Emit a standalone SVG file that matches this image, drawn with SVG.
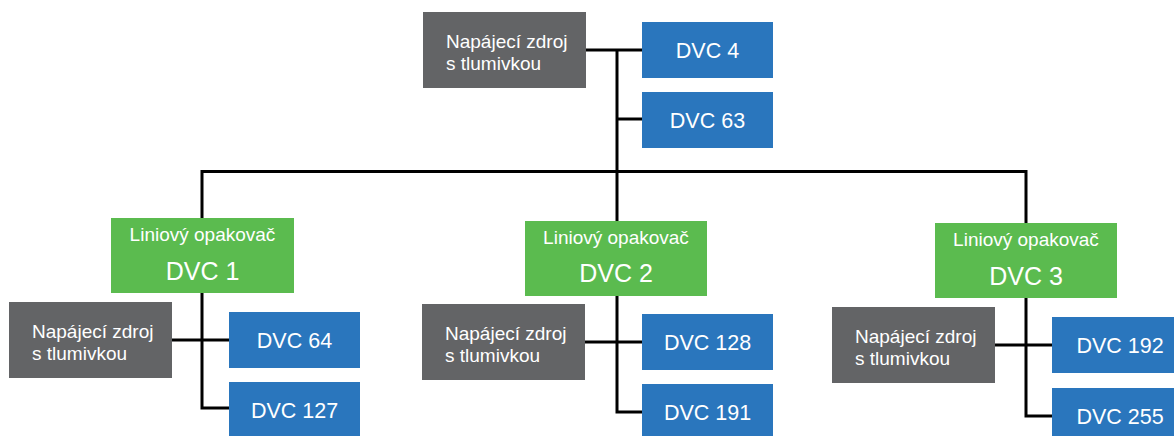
<svg xmlns="http://www.w3.org/2000/svg" width="1174" height="436" viewBox="0 0 1174 436">
  <style>
    .psu { fill: #636466; }
    .dvc { fill: #2a76bd; }
    .rep { fill: #5bbb4f; }
    text { font-family: "Liberation Sans", Arial, sans-serif; fill: #ffffff; }
    .t-psu { font-size: 19px; }
    .t-dvc { font-size: 21.5px; text-anchor: middle; }
    .t-rep { font-size: 19px; text-anchor: middle; }
    .t-rep-big { font-size: 25px; text-anchor: middle; }
    .wire { fill: none; stroke: #000000; stroke-width: 3; }
  </style>
  <rect width="1174" height="436" fill="#ffffff"/>

  <!-- bus wiring -->
  <g id="connectors">
    <!-- top segment: supply, DVC 4, DVC 63 -->
    <path class="wire" d="M586 50 H642"/>
    <path class="wire" d="M617 50 V172"/>
    <path class="wire" d="M617 119 H642"/>
    <!-- main bus to the three repeaters -->
    <path class="wire" d="M202 218 V171.5 H1026 V223"/>
    <path class="wire" d="M617 171.5 V221"/>
    <!-- segment 1 -->
    <path class="wire" d="M202 293 V408 H229"/>
    <path class="wire" d="M172 340 H229"/>
    <!-- segment 2 -->
    <path class="wire" d="M617 296 V412 H642"/>
    <path class="wire" d="M585 342 H642"/>
    <!-- segment 3 -->
    <path class="wire" d="M1026 298 V416 H1052"/>
    <path class="wire" d="M995 345 H1052"/>
  </g>

  <!-- top segment -->
  <g id="psu-top">
    <rect class="psu" x="423" y="12" width="163" height="76"/>
    <text class="t-psu" x="446" y="48">Napájecí zdroj</text>
    <text class="t-psu" x="446" y="70">s tlumivkou</text>
  </g>
  <g id="dvc-4">
    <rect class="dvc" x="642" y="22" width="131" height="56"/>
    <text class="t-dvc" x="707.5" y="58">DVC 4</text>
  </g>
  <g id="dvc-63">
    <rect class="dvc" x="642" y="92" width="131" height="56"/>
    <text class="t-dvc" x="707.5" y="128">DVC 63</text>
  </g>

  <!-- segment 1 -->
  <g id="repeater-1">
    <rect class="rep" x="111" y="218" width="183" height="75"/>
    <text class="t-rep" x="202.5" y="241">Liniový opakovač</text>
    <text class="t-rep-big" x="202.5" y="280">DVC 1</text>
  </g>
  <g id="psu-1">
    <rect class="psu" x="9" y="302" width="163" height="76"/>
    <text class="t-psu" x="32" y="338">Napájecí zdroj</text>
    <text class="t-psu" x="32" y="360">s tlumivkou</text>
  </g>
  <g id="dvc-64">
    <rect class="dvc" x="229" y="312" width="131" height="56"/>
    <text class="t-dvc" x="294.5" y="348">DVC 64</text>
  </g>
  <g id="dvc-127">
    <rect class="dvc" x="229" y="382" width="131" height="56"/>
    <text class="t-dvc" x="294.5" y="418">DVC 127</text>
  </g>

  <!-- segment 2 -->
  <g id="repeater-2">
    <rect class="rep" x="525" y="221" width="182" height="75"/>
    <text class="t-rep" x="616" y="244">Liniový opakovač</text>
    <text class="t-rep-big" x="616" y="282">DVC 2</text>
  </g>
  <g id="psu-2">
    <rect class="psu" x="422" y="304" width="163" height="76"/>
    <text class="t-psu" x="445" y="340">Napájecí zdroj</text>
    <text class="t-psu" x="445" y="362">s tlumivkou</text>
  </g>
  <g id="dvc-128">
    <rect class="dvc" x="642" y="314" width="131" height="56"/>
    <text class="t-dvc" x="707.5" y="350">DVC 128</text>
  </g>
  <g id="dvc-191">
    <rect class="dvc" x="642" y="384" width="131" height="56"/>
    <text class="t-dvc" x="707.5" y="420">DVC 191</text>
  </g>

  <!-- segment 3 -->
  <g id="repeater-3">
    <rect class="rep" x="935" y="223" width="182" height="75"/>
    <text class="t-rep" x="1026" y="246">Liniový opakovač</text>
    <text class="t-rep-big" x="1026" y="285">DVC 3</text>
  </g>
  <g id="psu-3">
    <rect class="psu" x="832" y="307" width="163" height="76"/>
    <text class="t-psu" x="855" y="343">Napájecí zdroj</text>
    <text class="t-psu" x="855" y="365">s tlumivkou</text>
  </g>
  <g id="dvc-192">
    <rect class="dvc" x="1052" y="317" width="136" height="56"/>
    <text class="t-dvc" x="1120" y="353">DVC 192</text>
  </g>
  <g id="dvc-255">
    <rect class="dvc" x="1052" y="388" width="136" height="56"/>
    <text class="t-dvc" x="1120" y="424">DVC 255</text>
  </g>
</svg>
